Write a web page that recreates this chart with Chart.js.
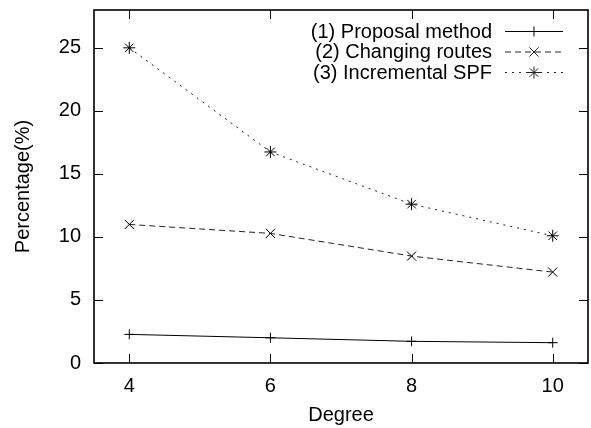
<!DOCTYPE html>
<html>
<head>
<meta charset="utf-8">
<script src="https://cdn.jsdelivr.net/npm/chart.js@4.4.1/dist/chart.umd.min.js"></script>
<style>
  html, body { margin: 0; padding: 0; background: #fff; }
  canvas { display: block; }
</style>
</head>
<body>
<canvas id="degree" width="591" height="428"></canvas>
<script>
// values
const degrees = [4, 6, 8, 10];
const proposal = [2.27, 2.0, 1.72, 1.61];
const changing = [10.99, 10.28, 8.48, 7.21];
const incremental = [25.0, 16.74, 12.6, 10.09];
const seriesNames = ["(1) Proposal method", "(2) Changing routes", "(3) Incremental SPF"];
const xTicks = [4, 6, 8, 10];
const yTicks = [0, 5, 10, 15, 20, 25];

const FONT = "'Liberation Sans', Arial, Helvetica, sans-serif";
const FSIZE = 20;

function pts(vals) {
    return degrees.map((d, i) => ({ x: d, y: vals[i] }));
}

// gnuplot-like frame with inward ticks on all four sides, plus the key
const framePlugin = {
    id: 'frame',
    afterDraw(chart) {
        const ctx = chart.ctx;
        const a = chart.chartArea;
        const xs = chart.scales.x, ys = chart.scales.y;
        const len = 9;
        ctx.save();
        ctx.strokeStyle = '#000';
        ctx.lineWidth = 1;
        ctx.beginPath();
        xs.ticks.forEach(t => {
            const px = Math.round(xs.getPixelForValue(t.value)) + 0.5;
            ctx.moveTo(px, a.bottom); ctx.lineTo(px, a.bottom - len);
            ctx.moveTo(px, a.top); ctx.lineTo(px, a.top + len);
        });
        ys.ticks.forEach(t => {
            const py = Math.round(ys.getPixelForValue(t.value)) + 0.5;
            ctx.moveTo(a.left, py); ctx.lineTo(a.left + len, py);
            ctx.moveTo(a.right, py); ctx.lineTo(a.right - len, py);
        });
        ctx.stroke();
        ctx.lineWidth = 1.6;
        ctx.strokeRect(a.left, a.top, a.right - a.left, a.bottom - a.top);

        // key, top right inside the frame
        ctx.font = FSIZE + 'px ' + FONT;
        ctx.textAlign = 'right';
        ctx.textBaseline = 'middle';
        chart.data.datasets.forEach((ds, i) => {
            const y = 31 + i * 20.5;
            ctx.fillStyle = '#000';
            ctx.fillText(ds.label, 492, y + 1);
            ctx.strokeStyle = ds.borderColor;
            ctx.lineWidth = 1;
            ctx.setLineDash(ds.borderDash || []);
            ctx.beginPath();
            ctx.moveTo(505, y + 0.5); ctx.lineTo(563, y + 0.5);
            ctx.stroke();
            ctx.setLineDash([]);
            Chart.helpers.drawPoint(ctx, {
                pointStyle: ds.pointStyle, radius: ds.pointRadius,
                rotation: 0, borderWidth: 1
            }, 534, y + 0.5);
        });
        ctx.restore();
    }
};

document.addEventListener("DOMContentLoaded", function() {
    const ctx = document.getElementById('degree').getContext('2d');
    new Chart(ctx, {
        type: 'line',
        data: {
            datasets: [{
                label: seriesNames[0],
                data: pts(proposal),
                borderColor: '#000',
                borderWidth: 1,
                pointStyle: 'cross',
                pointRadius: 5,
                pointBorderColor: '#000',
                pointBorderWidth: 1,
            }, {
                label: seriesNames[1],
                data: pts(changing),
                borderColor: '#222',
                borderWidth: 1,
                borderDash: [6, 4],
                pointStyle: 'crossRot',
                pointRadius: 6.5,
                pointBorderColor: '#000',
                pointBorderWidth: 1,
            }, {
                label: seriesNames[2],
                data: pts(incremental),
                borderColor: '#222',
                borderWidth: 1,
                borderDash: [2, 5],
                pointStyle: 'star',
                pointRadius: 6,
                pointBorderColor: '#000',
                pointBorderWidth: 1,
            }]
        },
        options: {
            responsive: false,
            animation: false,
            maintainAspectRatio: false,
            layout: { autoPadding: false, padding: { top: 10, right: 3, left: 0, bottom: 0 } },
            plugins: {
                legend: { display: false },
                tooltip: { enabled: false },
            },
            scales: {
                x: {
                    type: 'linear',
                    min: 3.5,
                    max: 10.5,
                    afterBuildTicks: s => { s.ticks = xTicks.map(v => ({ value: v })); },
                    afterFit: s => { s.height = 65; s.paddingLeft = 0; s.paddingRight = 0; },
                    grid: { display: false, drawTicks: false },
                    border: { display: false },
                    ticks: { color: '#000', padding: 11, font: { family: FONT, size: FSIZE } },
                    title: {
                        display: true,
                        text: 'Degree',
                        color: '#000',
                        font: { family: FONT, size: FSIZE },
                        padding: { top: 0, bottom: 1 },
                    },
                },
                y: {
                    min: 0,
                    max: 28,
                    afterBuildTicks: s => { s.ticks = yTicks.map(v => ({ value: v })); },
                    afterFit: s => { s.width = 94; s.paddingTop = 0; s.paddingBottom = 0; },
                    grid: { display: false, drawTicks: false },
                    border: { display: false },
                    ticks: { color: '#000', padding: 13, font: { family: FONT, size: FSIZE } },
                    title: {
                        display: true,
                        text: 'Percentage(%)',
                        color: '#000',
                        font: { family: FONT, size: FSIZE },
                        padding: { top: 11, bottom: 0 },
                    },
                },
            },
        },
        plugins: [framePlugin],
    });
});
</script>
</body>
</html>
